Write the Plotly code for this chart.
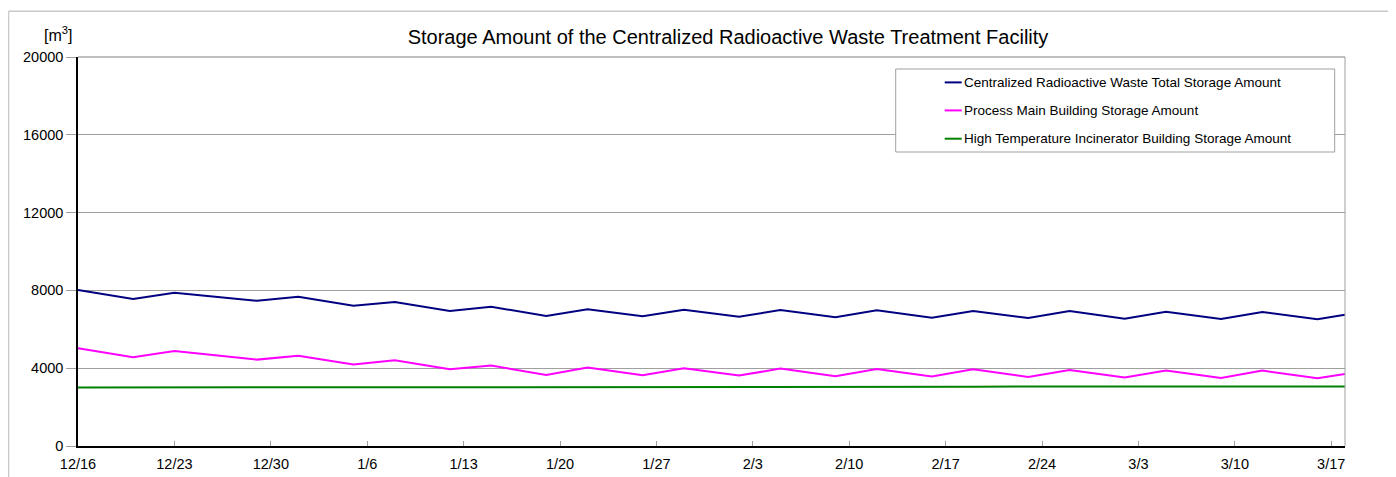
import plotly.graph_objects as go

# ---- data ----
dates = ["2014-12-16", "2014-12-20", "2014-12-23", "2014-12-29", "2015-01-01", "2015-01-05",
         "2015-01-08", "2015-01-12", "2015-01-15", "2015-01-19", "2015-01-22", "2015-01-26",
         "2015-01-29", "2015-02-02", "2015-02-05", "2015-02-09", "2015-02-12", "2015-02-16",
         "2015-02-19", "2015-02-23", "2015-02-26", "2015-03-02", "2015-03-05", "2015-03-09",
         "2015-03-12", "2015-03-16", "2015-03-18"]
total_storage = [8020, 7555, 7877, 7467, 7672, 7210, 7400, 6938, 7159, 6682, 7026, 6667,
                 7005, 6646, 6990, 6615, 6974, 6595, 6938, 6580, 6938, 6544, 6903, 6528,
                 6887, 6513, 6749]
process_main = [5026, 4564, 4887, 4441, 4646, 4185, 4410, 3949, 4133, 3656, 4031, 3641,
                4000, 3620, 3979, 3590, 3964, 3569, 3949, 3554, 3913, 3518, 3877, 3502,
                3877, 3487, 3708]
incinerator = [3010, 3010, 3012, 3035, 3040, 3040, 3040, 3040, 3042, 3042, 3042, 3042,
               3042, 3042, 3042, 3042, 3042, 3042, 3045, 3055, 3058, 3058, 3058, 3058,
               3058, 3058, 3058]
series_names = ["Centralized Radioactive Waste Total Storage Amount",
                "Process Main Building Storage Amount",
                "High Temperature Incinerator Building Storage Amount"]
series_colors = ["#000080", "#FF00FF", "#008000"]
tick_dates = ["2014-12-16", "2014-12-23", "2014-12-30", "2015-01-06", "2015-01-13",
              "2015-01-20", "2015-01-27", "2015-02-03", "2015-02-10", "2015-02-17",
              "2015-02-24", "2015-03-03", "2015-03-10", "2015-03-17"]
tick_labels = ["12/16", "12/23", "12/30", "1/6", "1/13", "1/20", "1/27", "2/3", "2/10",
               "2/17", "2/24", "3/3", "3/10", "3/17"]
y_ticks = [0, 4000, 8000, 12000, 16000, 20000]

FONT = "Liberation Sans, Arial, sans-serif"

# the page body adds an 8px offset; plot area on screen: x 78..1345, y 57..446
PX0, PX1, PY0, PY1 = 78.3, 1345.3, 57.3, 446.3
def px(x):
    return (x - PX0) / (PX1 - PX0)
def py(y):
    return (PY1 - y) / (PY1 - PY0)

fig = go.Figure()
for name, vals, col in zip(series_names, [total_storage, process_main, incinerator], series_colors):
    fig.add_trace(go.Scatter(x=dates, y=vals, mode="lines", name=name,
                             line=dict(color=col, width=2), showlegend=False))

shapes = [
    # legend box
    dict(type="rect", xref="paper", yref="paper", x0=px(896), x1=px(1335), y0=py(152.3), y1=py(69.3),
         line=dict(color="#A0A0A0", width=1), fillcolor="white", layer="above"),
    # right and top border of plot area
    dict(type="line", xref="paper", yref="paper", x0=1, x1=1, y0=0, y1=1,
         line=dict(color="#A0A0A0", width=1)),
    dict(type="line", xref="paper", yref="paper", x0=0, x1=1, y0=1, y1=1,
         line=dict(color="#808080", width=1)),
    # outer chart border (left and top visible)
    dict(type="line", xref="paper", yref="paper", x0=px(8.8), x1=px(8.8), y0=py(500), y1=py(11.5),
         line=dict(color="#C8C8C8", width=1.5), layer="above"),
    dict(type="line", xref="paper", yref="paper", x0=px(8.8), x1=px(1420), y0=py(11.5), y1=py(11.5),
         line=dict(color="#C8C8C8", width=1.5), layer="above"),
]
annotations = []
legend_y = [82.7, 110.7, 139.0]
for name, col, yy in zip(series_names, series_colors, legend_y):
    shapes.append(dict(type="line", xref="paper", yref="paper", x0=px(945), x1=px(962),
                       y0=py(yy), y1=py(yy), line=dict(color=col, width=2), layer="above"))
    annotations.append(dict(text=name, xref="paper", yref="paper", x=px(962), y=py(yy),
                            xanchor="left", yanchor="middle", showarrow=False,
                            font=dict(family=FONT, size=13.5, color="black")))

annotations.append(dict(text="[m<sup>3</sup>]", xref="paper", yref="paper",
                        x=px(42), y=py(34),
                        xanchor="left", yanchor="middle", showarrow=False,
                        font=dict(family=FONT, size=16, color="black")))

W, H = 1388, 469
fig.update_layout(
    width=W, height=H,
    margin=dict(l=70, r=51, t=49, b=31, autoexpand=False),
    paper_bgcolor="white", plot_bgcolor="white",
    title=dict(text="Storage Amount of the Centralized Radioactive Waste Treatment Facility",
               x=(728 - 8) / W, xanchor="center", y=1 - (36.5 - 8) / H, yanchor="middle",
               font=dict(family=FONT, size=20, color="black")),
    font=dict(family=FONT, size=14, color="black"),
    shapes=shapes, annotations=annotations,
    xaxis=dict(type="date", range=["2014-12-16", "2015-03-18"],
               tickvals=tick_dates, ticktext=tick_labels,
               showgrid=False, showline=True, linecolor="black", linewidth=1.5,
               ticks="inside", ticklen=5, tickcolor="#A0A0A0", tickwidth=1,
               ticklabelstandoff=4,
               tickfont=dict(family=FONT, size=14.5), zeroline=False),
    yaxis=dict(range=[0, 20000], tickvals=y_ticks, ticktext=[str(v) for v in y_ticks],
               showgrid=True, gridcolor="#A0A0A0", gridwidth=1,
               showline=True, linecolor="black", linewidth=1.5,
               ticks="outside", ticklen=10, tickcolor="#A0A0A0",
               tickfont=dict(family=FONT, size=14.5), zeroline=False),
)

fig.write_html("out.html")
